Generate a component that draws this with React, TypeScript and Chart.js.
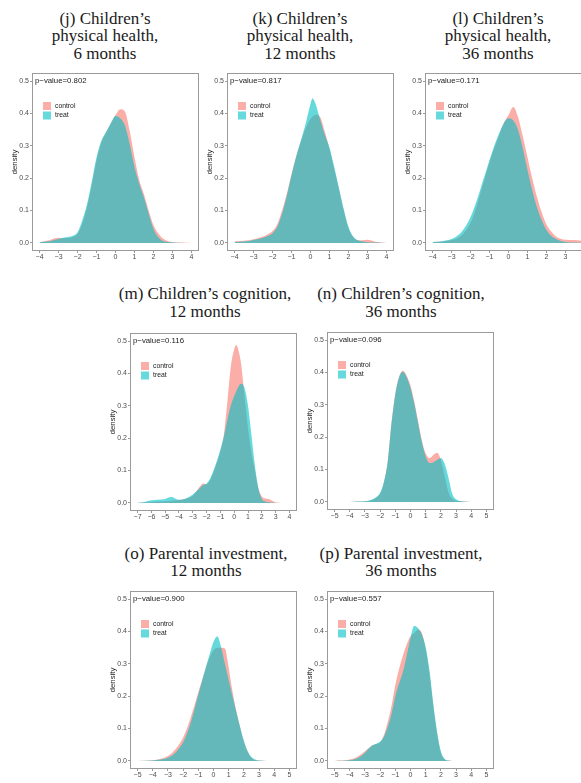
import React, { useEffect, useRef } from "react";
import { Chart, registerables } from "chart.js";

Chart.register(...registerables);
Chart.defaults.font.family = "'Liberation Sans', Arial, sans-serif";

// ---------------- data ----------------
const X_PHYS = [-4, -3.5, -3.25, -3, -2.75, -2.5, -2.25, -2, -1.75, -1.5, -1.25, -1, -0.75, -0.5, -0.25, 0, 0.25, 0.5, 0.75, 1, 1.25, 1.5, 1.75, 2, 2.25, 2.5, 2.75, 3, 3.5, 4];
const X_K = [-4, -3.5, -3.25, -3, -2.75, -2.5, -2.25, -2, -1.75, -1.5, -1.25, -1, -0.75, -0.5, -0.25, 0, 0.1, 0.25, 0.5, 0.75, 1, 1.25, 1.5, 1.75, 2, 2.25, 2.5, 2.75, 3, 3.5, 4];
const X_M = [-7, -6.5, -6, -5.5, -5, -4.75, -4.5, -4.25, -4, -3.5, -3, -2.75, -2.5, -2.25, -2, -1.75, -1.5, -1.25, -1, -0.75, -0.5, -0.25, 0, 0.15, 0.25, 0.5, 0.75, 1, 1.25, 1.5, 1.75, 2, 2.25, 2.5, 2.75, 3, 3.5, 4];
const X_5 = [-5, -4, -3.5, -3, -2.75, -2.5, -2.25, -2, -1.75, -1.5, -1.25, -1, -0.75, -0.5, -0.25, 0, 0.25, 0.5, 0.75, 1, 1.25, 1.5, 1.75, 2, 2.25, 2.5, 2.75, 3, 3.5, 4, 5];

const J_CONTROL = [0.002, 0.008, 0.014, 0.016, 0.015, 0.015, 0.018, 0.028, 0.06, 0.11, 0.18, 0.255, 0.31, 0.34, 0.368, 0.395, 0.413, 0.405, 0.345, 0.265, 0.195, 0.15, 0.1, 0.055, 0.03, 0.014, 0.006, 0.003, 0.001, 0];
const J_TREAT = [0.002, 0.005, 0.009, 0.012, 0.016, 0.018, 0.022, 0.033, 0.07, 0.12, 0.19, 0.265, 0.315, 0.343, 0.37, 0.392, 0.385, 0.362, 0.305, 0.235, 0.183, 0.14, 0.09, 0.044, 0.018, 0.006, 0.003, 0.001, 0, 0];

const K_CONTROL = [0.005, 0.007, 0.008, 0.011, 0.015, 0.02, 0.027, 0.037, 0.058, 0.1, 0.152, 0.212, 0.268, 0.315, 0.355, 0.383, 0.39, 0.396, 0.39, 0.345, 0.29, 0.228, 0.165, 0.1, 0.045, 0.018, 0.008, 0.008, 0.01, 0.003, 0];
const K_TREAT = [0.002, 0.004, 0.006, 0.009, 0.012, 0.016, 0.021, 0.03, 0.05, 0.09, 0.145, 0.21, 0.268, 0.318, 0.37, 0.43, 0.447, 0.432, 0.383, 0.335, 0.295, 0.235, 0.17, 0.105, 0.05, 0.02, 0.008, 0.004, 0.002, 0.001, 0];

const L_CONTROL = [0.002, 0.004, 0.006, 0.009, 0.013, 0.022, 0.038, 0.062, 0.1, 0.15, 0.2, 0.25, 0.293, 0.332, 0.37, 0.395, 0.42, 0.39, 0.33, 0.265, 0.2, 0.142, 0.095, 0.057, 0.035, 0.02, 0.013, 0.01, 0.009, 0.005];
const L_TREAT = [0.003, 0.005, 0.008, 0.012, 0.02, 0.032, 0.052, 0.08, 0.118, 0.163, 0.21, 0.256, 0.3, 0.338, 0.37, 0.385, 0.378, 0.35, 0.293, 0.225, 0.163, 0.11, 0.07, 0.04, 0.022, 0.012, 0.006, 0.003, 0.001, 0];

const M_CONTROL = [0, 0.001, 0.003, 0.004, 0.005, 0.006, 0.007, 0.008, 0.009, 0.013, 0.022, 0.035, 0.05, 0.06, 0.058, 0.07, 0.095, 0.125, 0.16, 0.21, 0.31, 0.42, 0.475, 0.488, 0.48, 0.43, 0.33, 0.23, 0.155, 0.1, 0.045, 0.02, 0.014, 0.012, 0.007, 0.002, 0, 0];
const M_TREAT = [0.001, 0.003, 0.008, 0.01, 0.012, 0.017, 0.018, 0.013, 0.01, 0.014, 0.026, 0.035, 0.045, 0.055, 0.06, 0.075, 0.1, 0.13, 0.165, 0.205, 0.255, 0.3, 0.33, 0.345, 0.355, 0.368, 0.355, 0.3, 0.21, 0.115, 0.045, 0.012, 0.004, 0.002, 0.001, 0, 0, 0];

const N_CONTROL = [0, 0, 0.001, 0.002, 0.003, 0.006, 0.013, 0.025, 0.06, 0.125, 0.245, 0.335, 0.387, 0.405, 0.39, 0.36, 0.31, 0.25, 0.19, 0.15, 0.135, 0.145, 0.152, 0.13, 0.08, 0.03, 0.01, 0.004, 0.001, 0, 0];
const N_TREAT = [0, 0, 0.001, 0.002, 0.004, 0.008, 0.015, 0.028, 0.062, 0.125, 0.243, 0.333, 0.385, 0.402, 0.385, 0.352, 0.303, 0.243, 0.185, 0.14, 0.12, 0.122, 0.13, 0.136, 0.118, 0.075, 0.025, 0.008, 0.001, 0, 0];

const O_CONTROL = [0, 0.002, 0.006, 0.015, 0.024, 0.036, 0.052, 0.072, 0.1, 0.135, 0.172, 0.212, 0.25, 0.288, 0.32, 0.342, 0.35, 0.35, 0.347, 0.288, 0.215, 0.155, 0.105, 0.06, 0.028, 0.01, 0.003, 0.001, 0, 0, 0];
const O_TREAT = [0, 0.001, 0.004, 0.01, 0.016, 0.026, 0.04, 0.058, 0.085, 0.118, 0.16, 0.205, 0.248, 0.29, 0.33, 0.368, 0.385, 0.352, 0.3, 0.25, 0.2, 0.152, 0.105, 0.062, 0.03, 0.012, 0.004, 0.001, 0, 0, 0];

const P_CONTROL = [0, 0.004, 0.013, 0.03, 0.04, 0.048, 0.052, 0.058, 0.08, 0.12, 0.17, 0.235, 0.285, 0.325, 0.36, 0.385, 0.395, 0.405, 0.395, 0.345, 0.27, 0.17, 0.085, 0.025, 0.005, 0.001, 0, 0, 0, 0, 0];
const P_TREAT = [0, 0.002, 0.008, 0.025, 0.038, 0.048, 0.053, 0.06, 0.075, 0.105, 0.145, 0.2, 0.24, 0.275, 0.325, 0.38, 0.418, 0.41, 0.39, 0.352, 0.28, 0.178, 0.09, 0.03, 0.006, 0.001, 0, 0, 0, 0, 0];

const TICKS_4 = [-4, -3, -2, -1, 0, 1, 2, 3, 4];
const TICKS_M = [-7, -6, -5, -4, -3, -2, -1, 0, 1, 2, 3, 4];
const TICKS_5 = [-5, -4, -3, -2, -1, 0, 1, 2, 3, 4, 5];
const Y_TICKS = [0, 0.1, 0.2, 0.3, 0.4, 0.5];

const SERIES_LABELS = ["control", "treat"];
const P_VALUES = ["0.802", "0.817", "0.171", "0.116", "0.096", "0.900", "0.557"];

// ---------------- layout / style ----------------
const AREA_W = 167;
const AREA_H = 178;
const PAD_L = 30;
const PAD_T = 6;
const PAD_R = 6;
const X_H = 18;
const CANVAS_W = PAD_L + AREA_W + PAD_R;
const CANVAS_H = PAD_T + AREA_H + X_H;

const CONTROL_FILL = "rgba(248,118,109,0.6)";
const TREAT_FILL = "rgba(0,191,196,0.6)";
const FRAME = "#9a9a9a";

type PanelDef = {
  id: string;
  title: string[];
  titleCx: number;
  titleTop: number;
  xs: number[];
  control: number[];
  treat: number[];
  xMin: number;
  xMax: number;
  xTicks: number[];
  pValue: string;
  left: number;
  top: number;
};

const PANELS: PanelDef[] = [
  { id: "j", title: ["(j) Children\u2019s", "physical health,", "6 months"], titleCx: 105, titleTop: 9.5, xs: X_PHYS, control: J_CONTROL, treat: J_TREAT, xMin: -4.4, xMax: 4.4, xTicks: TICKS_4, pValue: P_VALUES[0], left: 32, top: 73 },
  { id: "k", title: ["(k) Children\u2019s", "physical health,", "12 months"], titleCx: 300, titleTop: 9.5, xs: X_K, control: K_CONTROL, treat: K_TREAT, xMin: -4.4, xMax: 4.4, xTicks: TICKS_4, pValue: P_VALUES[1], left: 227, top: 73 },
  { id: "l", title: ["(l) Children\u2019s", "physical health,", "36 months"], titleCx: 498, titleTop: 9.5, xs: X_PHYS, control: L_CONTROL, treat: L_TREAT, xMin: -4.4, xMax: 4.4, xTicks: TICKS_4, pValue: P_VALUES[2], left: 425, top: 73 },
  { id: "m", title: ["(m) Children\u2019s cognition,", "12 months"], titleCx: 205, titleTop: 285, xs: X_M, control: M_CONTROL, treat: M_TREAT, xMin: -7.55, xMax: 4.55, xTicks: TICKS_M, pValue: P_VALUES[3], left: 130, top: 333 },
  { id: "n", title: ["(n) Children\u2019s cognition,", "36 months"], titleCx: 401, titleTop: 285, xs: X_5, control: N_CONTROL, treat: N_TREAT, xMin: -5.5, xMax: 5.5, xTicks: TICKS_5, pValue: P_VALUES[4], left: 327, top: 332 },
  { id: "o", title: ["(o) Parental investment,", "12 months"], titleCx: 206, titleTop: 544.5, xs: X_5, control: O_CONTROL, treat: O_TREAT, xMin: -5.5, xMax: 5.5, xTicks: TICKS_5, pValue: P_VALUES[5], left: 130, top: 591 },
  { id: "p", title: ["(p) Parental investment,", "36 months"], titleCx: 401, titleTop: 544.5, xs: X_5, control: P_CONTROL, treat: P_TREAT, xMin: -5.5, xMax: 5.5, xTicks: TICKS_5, pValue: P_VALUES[6], left: 327, top: 591 },
];

const fmtX = (v: number) => (v < 0 ? "\u2212" + Math.abs(v) : String(v));

const decorPlugin = {
  id: "panelDecor",
  afterDatasetsDraw(chart: any, _args: any, opts: any) {
    const { ctx, chartArea } = chart;
    const { left, top, width, height } = chartArea;
    const yScale = chart.scales.y;
    ctx.save();
    ctx.strokeStyle = FRAME;
    ctx.lineWidth = 1;
    ctx.strokeRect(left + 0.5, top + 0.5, width - 1, height - 1);

    ctx.fillStyle = "#1a1a1a";
    ctx.font = "7.8px 'Liberation Sans', Arial, sans-serif";
    ctx.textAlign = "left";
    ctx.textBaseline = "middle";
    ctx.fillText("p\u2212value=" + opts.pValue, left + 3, yScale.getPixelForValue(0.5));

    chart.data.datasets.forEach((ds: any, i: number) => {
      const y0 = top + 29 + i * 9.5;
      ctx.fillStyle = ds.backgroundColor;
      ctx.fillRect(left + 11, y0, 8, 8);
      ctx.fillStyle = "#1a1a1a";
      ctx.font = "6.8px 'Liberation Sans', Arial, sans-serif";
      ctx.fillText(ds.label, left + 23, y0 + 4);
    });
    ctx.restore();
  },
};

function makeConfig(def: PanelDef): any {
  const pts = (ys: number[]) => def.xs.map((x, i) => ({ x, y: ys[i] }));
  return {
    type: "line",
    data: {
      datasets: [
        { label: SERIES_LABELS[0], data: pts(def.control), fill: "origin", backgroundColor: CONTROL_FILL, borderColor: "rgba(0,0,0,0)", borderWidth: 0, pointRadius: 0, cubicInterpolationMode: "monotone", order: 2 },
        { label: SERIES_LABELS[1], data: pts(def.treat), fill: "origin", backgroundColor: TREAT_FILL, borderColor: "rgba(0,0,0,0)", borderWidth: 0, pointRadius: 0, cubicInterpolationMode: "monotone", order: 1 },
      ],
    },
    options: {
      responsive: false,
      animation: false,
      devicePixelRatio: 1,
      events: [],
      layout: { padding: { left: 0, top: PAD_T, right: PAD_R, bottom: 0 } },
      plugins: {
        legend: { display: false },
        tooltip: { enabled: false },
        panelDecor: { pValue: def.pValue },
      },
      scales: {
        x: {
          type: "linear",
          min: def.xMin,
          max: def.xMax,
          afterBuildTicks: (s: any) => {
            s.ticks = def.xTicks.map((v) => ({ value: v }));
          },
          afterFit: (s: any) => {
            s.height = X_H;
          },
          grid: { drawOnChartArea: false, drawTicks: true, tickLength: 2, color: FRAME },
          border: { display: false },
          ticks: { padding: 0, color: "#4d4d4d", font: { size: 7 }, maxRotation: 0, autoSkip: false, callback: (v: number) => fmtX(v) },
        },
        y: {
          type: "linear",
          min: -0.025,
          max: 0.525,
          afterBuildTicks: (s: any) => {
            s.ticks = Y_TICKS.map((v) => ({ value: v }));
          },
          afterFit: (s: any) => {
            s.width = PAD_L;
          },
          grid: { drawOnChartArea: false, drawTicks: true, tickLength: 2, color: FRAME },
          border: { display: false },
          title: { display: true, text: "density", color: "#1a1a1a", font: { size: 7.8 }, padding: { top: 8, bottom: 0 } },
          ticks: { padding: 1, color: "#4d4d4d", font: { size: 7 }, autoSkip: false, callback: (v: number) => v.toFixed(1) },
        },
      },
    },
    plugins: [decorPlugin],
  };
}

function Panel({ def }: { def: PanelDef }) {
  const ref = useRef<HTMLCanvasElement>(null);
  useEffect(() => {
    if (!ref.current) return;
    const chart = new Chart(ref.current, makeConfig(def));
    return () => chart.destroy();
  }, [def]);
  return (
    <>
      <div
        style={{
          position: "absolute",
          left: def.titleCx - 130,
          top: def.titleTop,
          width: 260,
          textAlign: "center",
          fontFamily: "'Liberation Serif', 'Times New Roman', serif",
          fontSize: 17,
          lineHeight: "17.5px",
          color: "#1a1a1a",
          whiteSpace: "nowrap",
        }}
      >
        {def.title.map((t, i) => (
          <div key={i}>{t}</div>
        ))}
      </div>
      <canvas
        ref={ref}
        width={CANVAS_W}
        height={CANVAS_H}
        style={{ position: "absolute", left: def.left - PAD_L, top: def.top - PAD_T, width: CANVAS_W, height: CANVAS_H }}
      />
    </>
  );
}

export default function App() {
  return (
    <div
      style={{
        position: "fixed",
        left: 0,
        top: 0,
        width: 581,
        height: 783,
        overflow: "hidden",
        background: "#ffffff",
      }}
    >
      {PANELS.map((p) => (
        <Panel key={p.id} def={p} />
      ))}
    </div>
  );
}
